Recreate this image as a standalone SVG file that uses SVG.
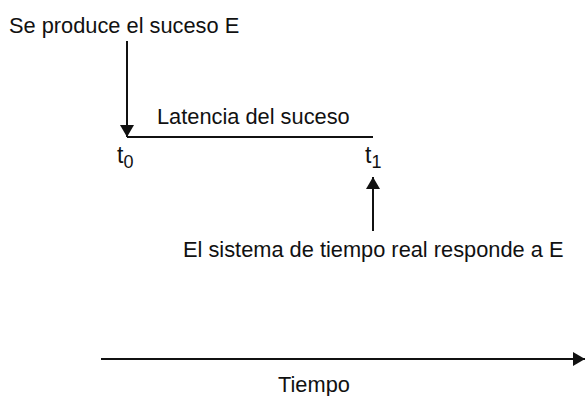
<svg xmlns="http://www.w3.org/2000/svg" width="585" height="396" viewBox="0 0 585 396">
<defs>
<marker id="ah" viewBox="0 0 12 16" refX="12" refY="8" markerWidth="12" markerHeight="16" markerUnits="userSpaceOnUse" orient="auto">
<path d="M0,1 L12,8 L0,15 Z" fill="#111"/>
</marker>
</defs>
<style>
text{font-family:"Liberation Sans",Arial,sans-serif;font-size:21.8px;fill:#111}
.t{font-size:23px}
.sub{font-size:18px}
line{stroke:#111;stroke-width:2}
</style>
<rect width="585" height="396" fill="#fff"/>
<g id="connectors">
<line x1="127" y1="41" x2="127" y2="137" marker-end="url(#ah)"/>
<line x1="127" y1="137" x2="373" y2="137"/>
<line x1="373" y1="231" x2="373" y2="177" marker-end="url(#ah)"/>
<line x1="101" y1="359" x2="585" y2="359" marker-end="url(#ah)"/>
</g>
<g id="event"><text x="9" y="33">Se produce el suceso E</text></g>
<g id="latency"><text x="157" y="124">Latencia del suceso</text></g>
<g id="t0"><text class="t" x="117" y="163">t<tspan class="sub" dy="5">0</tspan></text></g>
<g id="t1"><text class="t" x="365" y="163">t<tspan class="sub" dy="5">1</tspan></text></g>
<g id="response"><text x="183" y="257">El sistema de tiempo real responde a E</text></g>
<g id="time"><text x="278" y="392">Tiempo</text></g>
</svg>
